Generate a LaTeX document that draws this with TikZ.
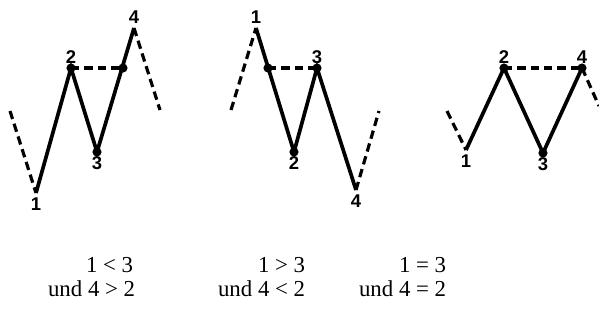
\documentclass[tikz,border=0pt]{standalone}
\usepackage{fontspec}
\setmainfont{Liberation Serif}
\setsansfont{Liberation Sans}
\begin{document}
\begin{tikzpicture}[x=0.02cm, y=-0.02cm, line width=2.1pt,
  welle/.style={line join=miter, line cap=butt},
  trend/.style={dash pattern=on 4.8pt off 2.8pt, line width=1.8pt},
  punkt/.style={fill=black},
  nr/.style={font=\sffamily\bfseries\fontsize{10.5}{12}\selectfont, inner sep=1.5pt},
  bed/.style={font=\fontsize{13}{15}\selectfont, inner sep=0pt, anchor=base east}]
    \useasboundingbox (0,0) rectangle (599,320);
    % Fall a: 1 < 3 und 4 > 2
    \coordinate (a0) at (10,111); \coordinate (a1) at (36,193); \coordinate (a2) at (71,68);
    \coordinate (a3) at (97,152); \coordinate (ax) at (123,68); \coordinate (a4) at (134,28);
    \coordinate (a5) at (160,110);
    \draw[trend] (a0)--(a1); \draw[trend] (a4)--(a5); \draw[trend] (a2)--(ax);
    \draw[welle] (a1)--(a2)--(a3)--(a4);
    \fill[punkt] (a2) circle (2.6pt); \fill[punkt] (a3) circle (2.6pt); \fill[punkt] (ax) circle (2.6pt);
    \node[nr,below] (na1) at (a1) {1}; \node[nr,above] (na2) at (a2) {2};
    \node[nr,below] (na3) at (a3) {3}; \node[nr,above] (na4) at (a4) {4};
    % Fall b: 1 > 3 und 4 < 2
    \coordinate (b0) at (231,110); \coordinate (b1) at (256,28); \coordinate (bx) at (268,68);
    \coordinate (b2) at (294,152); \coordinate (b3) at (317,68); \coordinate (b4) at (356,190);
    \coordinate (b5) at (379,111);
    \draw[trend] (b0)--(b1); \draw[trend] (b4)--(b5); \draw[trend] (bx)--(b3);
    \draw[welle] (b1)--(b2)--(b3)--(b4);
    \fill[punkt] (bx) circle (2.6pt); \fill[punkt] (b2) circle (2.6pt); \fill[punkt] (b3) circle (2.6pt);
    \node[nr,above] (nb1) at (b1) {1}; \node[nr,below] (nb2) at (b2) {2};
    \node[nr,above] (nb3) at (b3) {3}; \node[nr,below] (nb4) at (b4) {4};
    % Fall c: 1 = 3 und 4 = 2
    \coordinate (c0) at (447,111); \coordinate (c1) at (466,150); \coordinate (c2) at (504,68);
    \coordinate (c3) at (543,153); \coordinate (c4) at (582,68); \coordinate (c5) at (599,106);
    \draw[trend] (c0)--(c1); \draw[trend] (c4)--(c5); \draw[trend] (c2)--(c4);
    \draw[welle] (c1)--(c2)--(c3)--(c4);
    \fill[punkt] (c2) circle (2.6pt); \fill[punkt] (c3) circle (2.6pt); \fill[punkt] (c4) circle (2.6pt);
    \node[nr,below] (nc1) at (c1) {1}; \node[nr,above] (nc2) at (c2) {2};
    \node[nr,below] (nc3) at (c3) {3}; \node[nr,above] (nc4) at (c4) {4};
    % Bedingungen
    \node[bed] (ta1) at (135,273) {1 < 3}; \node[bed] (ta2) at (137,297) {und 4 > 2};
    \node[bed] (tb1) at (307,273) {1 > 3}; \node[bed] (tb2) at (307,297) {und 4 < 2};
    \node[bed] (tc1) at (448,273) {1 = 3}; \node[bed] (tc2) at (448,297) {und 4 = 2};
\end{tikzpicture}
\end{document}
